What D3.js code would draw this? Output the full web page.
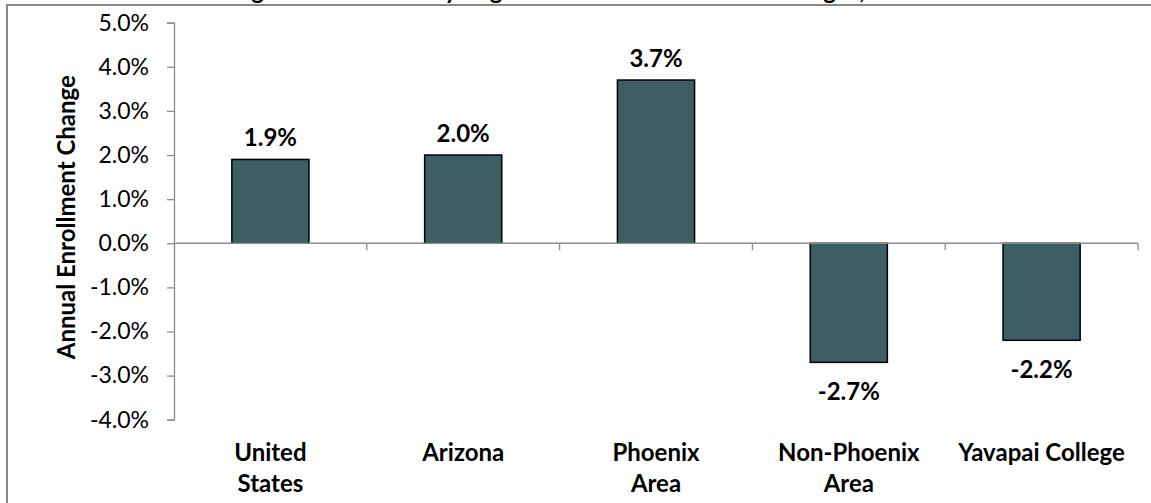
<!DOCTYPE html>
<meta charset="utf-8">
<script src="https://d3js.org/d3.v7.min.js"></script>
<style>
  body { margin: 0; background: #fff; overflow: hidden; }
  text { font-family: Lato, "Open Sans", sans-serif; }
</style>
<div id="chart"></div>
<script>

// data
var regions = ["United States", "Arizona", "Phoenix Area", "Non-Phoenix Area", "Yavapai College"];
var regionLines = [["United", "States"], ["Arizona"], ["Phoenix", "Area"], ["Non-Phoenix", "Area"], ["Yavapai College"]];
var changes = [1.9, 2.0, 3.7, -2.7, -2.2];
var yTicks = [-4, -3, -2, -1, 0, 1, 2, 3, 4, 5];
var chartTitle = "Change in Headcount by Region for Arizona Two-Year Colleges, 2012 to 2013";
var yTitle = "Annual Enrollment Change";

var width = 1151, height = 503;
var margin = {top: 23, right: 13, bottom: 84, left: 174};

// percent with a plain hyphen for negatives, like the original
var pct = function(d) { return d3.format(".1%")(d / 100).replace("\u2212", "-"); };

var svg = d3.select("#chart").append("svg")
  .attr("width", width)
  .attr("height", height);

// chart area border (runs off the right and bottom of the picture)
svg.append("rect")
  .attr("x", 7).attr("y", 5)
  .attr("width", 1170).attr("height", 530)
  .attr("fill", "none")
  .attr("stroke", "#898989")
  .attr("stroke-width", 2);

// title, cut off at the top
svg.append("text")
  .attr("x", 196)
  .attr("y", -1)
  .style("font-size", "24px")
  .style("font-weight", "bold")
  .text(chartTitle);

var x = d3.scaleBand()
  .domain(regions)
  .range([margin.left, width - margin.right])
  .padding(0);

var y = d3.scaleLinear()
  .domain([-4, 5])
  .range([height - margin.bottom + 0.7, margin.top - 0.3]);

var axisColor = "#8c8c8c";

// y axis
var yAxis = svg.append("g")
  .attr("transform", "translate(" + margin.left + ",0)")
  .call(d3.axisLeft(y)
    .tickValues(yTicks)
    .tickSize(7)
    .tickSizeOuter(7)
    .tickPadding(18)
    .tickFormat(pct));
yAxis.select(".domain").attr("stroke", axisColor).attr("stroke-width", 1.3);
yAxis.selectAll(".tick line").attr("stroke", axisColor).attr("stroke-width", 1.3);
yAxis.selectAll(".tick text")
  .attr("fill", "#000")
  .style("font-size", "23px")
  .style("font-family", "Lato, sans-serif");

// y axis title
svg.append("text")
  .attr("transform", "translate(75," + ((y(5) + y(-4)) / 2 - 4) + ") rotate(-90)")
  .style("text-anchor", "middle")
  .style("font-size", "24px")
  .style("font-weight", "bold")
  .text(yTitle);

// bars
var barW = x.bandwidth() * 0.4;
svg.selectAll(".bar")
  .data(changes)
  .enter()
  .append("rect")
    .attr("class", "bar")
    .attr("x", function(d, i) { return x(regions[i]) + (x.bandwidth() - barW) / 2; })
    .attr("y", function(d) { return y(Math.max(0, d)); })
    .attr("width", barW)
    .attr("height", function(d) { return Math.abs(y(d) - y(0)); })
    .attr("fill", "#3d5e62")
    .attr("stroke", "#000")
    .attr("stroke-width", 1.5);

// x axis line at zero with ticks on category boundaries
var xAxis = svg.append("g");
xAxis.append("line")
  .attr("x1", x.range()[0]).attr("x2", x.range()[1])
  .attr("y1", y(0)).attr("y2", y(0))
  .attr("stroke", axisColor).attr("stroke-width", 1.3);
var bounds = regions.map(function(r) { return x(r); }).slice(1).concat([x.range()[1]]);
xAxis.selectAll(".xtick")
  .data(bounds)
  .enter()
  .append("line")
    .attr("x1", function(d) { return d; }).attr("x2", function(d) { return d; })
    .attr("y1", y(0)).attr("y2", y(0) + 7)
    .attr("stroke", axisColor).attr("stroke-width", 1.3);

// value labels
svg.selectAll(".val")
  .data(changes)
  .enter()
  .append("text")
    .attr("x", function(d, i) { return x(regions[i]) + x.bandwidth() / 2; })
    .attr("y", function(d) { return d >= 0 ? y(d) - 13 : y(d) + 38; })
    .style("text-anchor", "middle")
    .style("font-size", "24px")
    .style("font-weight", "bold")
    .text(function(d) { return pct(d); });

// category labels
var cats = svg.selectAll(".cat")
  .data(regionLines)
  .enter()
  .append("text")
    .attr("x", function(d, i) { return x(regions[i]) + x.bandwidth() / 2; })
    .attr("y", 461)
    .style("text-anchor", "middle")
    .style("font-size", "24px")
    .style("font-weight", "bold");
cats.selectAll("tspan")
  .data(function(d) { return d; })
  .enter()
  .append("tspan")
    .attr("x", function() { return d3.select(this.parentNode).attr("x"); })
    .attr("dy", function(d, i) { return i === 0 ? 0 : 31; })
    .text(function(d) { return d; });

</script>
